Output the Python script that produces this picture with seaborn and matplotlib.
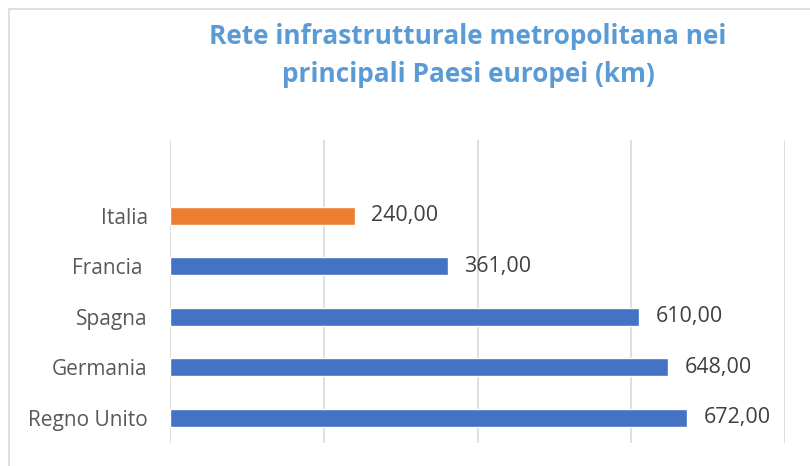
import matplotlib
matplotlib.use("Agg")
import matplotlib.pyplot as plt
import pandas as pd
import seaborn as sns
from matplotlib.patches import Rectangle

# Dati del grafico (km di rete metropolitana)
paesi = ["Italia", "Francia ", "Spagna", "Germania", "Regno Unito"]
km = [240, 361, 610, 648, 672]
gruppo = ["Italia", "Altri", "Altri", "Altri", "Altri"]
colori = {"Italia": "#ED7D31", "Altri": "#4472C4"}

df = pd.DataFrame({"paese": paesi, "km": km, "gruppo": gruppo})

sns.set_style("white")
plt.rcParams["font.family"] = ["Open Sans", "DejaVu Sans"]

fig = plt.figure(figsize=(8.1, 4.66), dpi=100)
ax = fig.add_axes([170 / 810, 1 - 443 / 466, 615 / 810, 303 / 466])

sns.barplot(data=df, x="km", y="paese", hue="gruppo", palette=colori,
            orient="h", width=0.36, legend=False, ax=ax, saturation=1)

ax.set_xlim(0, 800)
ax.set_ylim(4.5, -1.5)
ax.set_xticks([0, 200, 400, 600, 800])
ax.set_xticklabels([])
ax.grid(axis="x", color="#D9D9D9", linewidth=1.2)
ax.set_axisbelow(True)
for s in ax.spines.values():
    s.set_visible(False)
ax.tick_params(axis="both", length=0)
ax.tick_params(axis="y", pad=16, labelsize=15, labelcolor="#595959")
ax.set_xlabel("")
ax.set_ylabel("")

# Etichette dei valori
for i, v in enumerate(km):
    ax.text(v + 22, i, f"{v},00", va="center", ha="left",
            fontsize=15.5, color="#404040")

# Titolo
fig.text(468 / 810, 1 - 37 / 466, "Rete infrastrutturale metropolitana nei",
         ha="center", va="center", fontsize=18.9, fontweight="bold", color="#5B9BD5")
fig.text(468 / 810, 1 - 75 / 466, "principali Paesi europei (km)",
         ha="center", va="center", fontsize=18.9, fontweight="bold", color="#5B9BD5")

# Bordo dell'area del grafico
fig.patches.append(Rectangle((9 / 810, -0.1), 1.1, 1 - 9 / 466 + 0.1,
                             transform=fig.transFigure, fill=False,
                             edgecolor="#D9D9D9", linewidth=1.2))

fig.savefig("out.png", dpi=100)
